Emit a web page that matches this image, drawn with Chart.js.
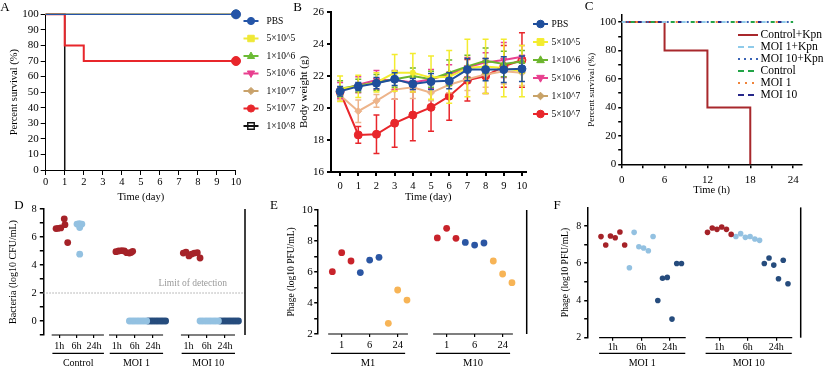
<!DOCTYPE html>
<html>
<head>
<meta charset="utf-8">
<title>Kpn phage panels</title>
<script src="https://cdn.jsdelivr.net/npm/chart.js@4/dist/chart.umd.min.js"></script>
<style>
  html, body { margin: 0; padding: 0; background: #fff; }
  #page { position: relative; width: 826px; height: 370px; overflow: hidden; }
  #page canvas { position: absolute; left: 0; top: 0; }
</style>
</head>
<body>
<div id="page">
  <canvas id="chartA" width="826" height="370"></canvas>
  <canvas id="chartB" width="826" height="370"></canvas>
  <canvas id="chartC" width="826" height="370"></canvas>
  <canvas id="chartD" width="826" height="370"></canvas>
  <canvas id="chartE" width="826" height="370"></canvas>
  <canvas id="chartF" width="826" height="370"></canvas>
</div>
<script>
const W = 826, H = 370;
const SERIF = "'Liberation Serif', 'Times New Roman', serif";

// ---------- A: survival by Kpn dose ----------
const aGroups = ['PBS', '5×10^5', '1×10^6', '5×10^6', '1×10^7', '5×10^7', '1×10^8'];
const aDays = [[0, 10], [0, 10], [0, 10], [0, 10], [0, 10], [0, 1, 2, 10], [0, 1]];
const aSurvival = [[100, 100], [100, 100], [100, 100], [100, 100], [100, 100], [100, 80, 70, 70], [100, 0]];
const aDayTicks = [0, 1, 2, 3, 4, 5, 6, 7, 8, 9, 10];
const aPctTicks = [0, 10, 20, 30, 40, 50, 60, 70, 80, 90, 100];

// ---------- B: body weight (g) ----------
const bDays = [0, 1, 2, 3, 4, 5, 6, 7, 8, 9, 10];
const bGroups = ['PBS', '5×10^5', '1×10^6', '5×10^6', '1×10^7', '5×10^7'];
const bPBS = [21.05, 21.35, 21.55, 21.8, 21.5, 21.65, 21.7, 22.4, 22.4, 22.4, 22.45];
const bPBSsd = [0.3, 0.25, 0.35, 0.4, 0.35, 0.5, 0.5, 0.7, 0.7, 0.8, 0.8];
const b5e5 = [21.2, 21.35, 21.6, 22.2, 22.2, 21.9, 21.95, 22.5, 22.6, 22.5, 22.3];
const b5e5sd = [0.8, 0.7, 0.6, 1.15, 1.2, 1.35, 1.65, 1.8, 1.7, 1.8, 1.6];
const b1e6 = [21.2, 21.4, 21.6, 21.8, 22.0, 21.8, 22.2, 22.6, 22.95, 22.75, 22.9];
const b1e6sd = [0.5, 0.4, 0.5, 0.5, 0.5, 0.5, 0.8, 0.7, 0.8, 0.8, 0.7];
const b5e6 = [21.1, 21.45, 21.75, 21.75, 21.6, 21.8, 22.1, 22.55, 22.85, 23.0, 23.2];
const b5e6sd = [0.5, 0.5, 0.6, 0.6, 0.6, 0.6, 0.6, 0.6, 0.6, 1.1, 0.7];
const b1e7 = [20.8, 19.8, 20.45, 21.15, 21.3, 20.95, 21.45, 21.8, 22.1, 22.3, 22.2];
const b1e7sd = [0.3, 0.7, 0.4, 0.6, 0.7, 0.5, 0.5, 0.7, 0.8, 0.8, 0.8];
const b5e7 = [21.0, 18.32, 18.36, 19.05, 19.56, 20.04, 20.74, 21.73, 22.0, 22.6, 23.0];
const b5e7sd = [0.3, 0.53, 1.2, 1.5, 1.6, 1.5, 1.5, 1.3, 1.1, 1.3, 1.7];
const bWeightTicks = [16, 18, 20, 22, 24, 26];

// ---------- C: survival with phage ----------
const cGroups = ['Control+Kpn', 'MOI 1+Kpn', 'MOI 10+Kpn', 'Control', 'MOI 1', 'MOI 10'];
const cHours = [[0, 6, 12, 18], [0, 24], [0, 24], [0, 24], [0, 24], [0, 24]];
const cSurvival = [[100, 80, 40, 0], [100, 100], [100, 100], [100, 100], [100, 100], [100, 100]];
const cHourTicks = [0, 3, 6, 9, 12, 15, 18, 21, 24];
const cPctTicks = [0, 10, 20, 30, 40, 50, 60, 70, 80, 90, 100];

// ---------- D: bacteria (log10 CFU/mL) ----------
const dGroups = ['Control', 'MOI 1', 'MOI 10'];
const dTimes = ['1h', '6h', '24h'];
const dTickX = [1.0, 1.95, 2.9, 4.15, 5.15, 6.15, 8.1, 9.1, 10.1];
const d1hX = [0.82, 0.94, 1.08, 1.27, 1.31, 1.46,
  4.11, 4.26, 4.43, 4.57, 4.70, 4.85, 4.94, 5.03,
  7.81, 7.96, 8.12, 8.27, 8.42, 8.58, 8.73];
const d1hY = [6.6, 6.62, 6.65, 7.3, 6.88, 5.6,
  4.95, 5.0, 5.02, 5.0, 4.88, 4.85, 4.9, 4.98,
  4.85, 4.92, 4.65, 4.78, 4.85, 4.88, 4.5];
const d6hX = [1.97, 2.1, 2.24, 2.12, 2.12,
  4.85, 4.99, 5.12, 5.26, 5.39, 5.53, 5.66, 5.80,
  8.73, 8.87, 9.02, 9.16, 9.30, 9.45, 9.59, 9.74];
const d6hY = [6.92, 6.95, 6.92, 6.68, 4.77,
  0, 0, 0, 0, 0, 0, 0, 0,
  0, 0, 0, 0, 0, 0, 0, 0];
const d24hX = [5.89, 6.03, 6.16, 6.30, 6.43, 6.57, 6.70, 6.84,
  9.85, 10.0, 10.14, 10.28, 10.42, 10.56, 10.7, 10.84];
const d24hY = [0, 0, 0, 0, 0, 0, 0, 0,
  0, 0, 0, 0, 0, 0, 0, 0];
const dLimit = 2;
const dLogTicks = [-1, 0, 1, 2, 3, 4, 5, 6, 7, 8];

// ---------- E: phage titre per mouse model ----------
const eGroups = ['M1', 'M10'];
const eTimes = ['1', '6', '24'];
const eTickX = [2, 5, 8, 13.25, 16.25, 19.25];
const e1X = [1, 2, 3, 12.25, 13.25, 14.25];
const e1Y = [6.02, 7.25, 6.71, 8.2, 8.82, 8.17];
const e6X = [4, 5, 6, 15.25, 16.25, 17.25];
const e6Y = [5.96, 6.77, 6.95, 7.91, 7.74, 7.87];
const e24X = [7, 8, 9, 18.25, 19.25, 20.25];
const e24Y = [2.69, 4.84, 4.19, 6.71, 5.87, 5.31];
const eLogTicks = [2, 3, 4, 5, 6, 7, 8, 9, 10];

// ---------- F: phage titre per MOI ----------
const fGroups = ['MOI 1', 'MOI 10'];
const fTimes = ['1h', '6h', '24h'];
const fTickX = [2.5, 8.5, 14.5, 25, 31, 37];
const f1hX = [0, 1, 2, 3, 4, 5, 22.5, 23.5, 24.5, 25.5, 26.5, 27.5];
const f1hY = [7.43, 6.98, 7.46, 7.37, 7.68, 6.98, 7.66, 7.89, 7.82, 7.95, 7.82, 7.55];
const f6hX = [6, 7, 8, 9, 10, 11, 28.5, 29.5, 30.5, 31.5, 32.5, 33.5];
const f6hY = [5.76, 7.66, 6.89, 6.82, 6.67, 7.44, 7.44, 7.59, 7.39, 7.44, 7.3, 7.23];
const f24hX = [12, 13, 14, 15, 16, 17, 34.5, 35.5, 36.5, 37.5, 38.5, 39.5];
const f24hY = [4.0, 5.19, 5.24, 3.0, 5.99, 5.99, 5.99, 6.28, 5.9, 5.17, 6.16, 4.9];
const fLogTicks = [2, 3, 4, 5, 6, 7, 8];

// ================= helpers =================
const zip = (xs, ys) => xs.map((x, i) => ({ x: x, y: ys[i] }));

// place the plot area at fixed page pixels
function frame(area, scaleLeft, scaleBottom) {
  return {
    padding: { left: scaleLeft, top: area.t, right: W - area.r, bottom: H - scaleBottom },
    yw: area.l - scaleLeft,
    xh: scaleBottom - area.b
  };
}

function linAxis(o) {
  return {
    type: 'linear', position: o.pos, min: o.min, max: o.max,
    border: { display: o.border !== false, color: '#000', width: o.lw },
    grid: { drawOnChartArea: false, drawTicks: true, tickLength: o.tl, tickWidth: o.lw, tickColor: '#000', color: '#000', lineWidth: o.lw },
    ticks: { font: { family: SERIF, size: o.fs }, color: '#000', padding: o.pad, maxRotation: 0, minRotation: 0, autoSkip: false,
      callback: o.label || (v => String(v)) },
    afterBuildTicks: s => { s.ticks = o.ticks.map(v => ({ value: v })); },
    afterFit: s => {
      if (o.pos === 'left') { s.width = o.size; s.paddingTop = 0; s.paddingBottom = 0; }
      else { s.height = o.size; s.paddingLeft = 0; s.paddingRight = 0; }
    },
    title: o.title ? { display: true, text: o.title, padding: 0, color: '#000', font: { family: SERIF, size: o.tfs } } : { display: false }
  };
}

function baseOptions(fr, scales) {
  return {
    responsive: false, animation: false, devicePixelRatio: 1, events: [],
    layout: { padding: fr.padding },
    plugins: { legend: { display: false }, tooltip: { enabled: false } },
    scales: scales
  };
}

function drawMarker(ctx, style, x, y, r, color, rot) {
  ctx.save();
  ctx.translate(x, y);
  if (rot) ctx.rotate(rot * Math.PI / 180);
  ctx.fillStyle = color; ctx.strokeStyle = color; ctx.lineWidth = 1;
  ctx.setLineDash([]);
  ctx.beginPath();
  if (style === 'circle') ctx.arc(0, 0, r, 0, Math.PI * 2);
  else if (style === 'rect' || style === 'openRect') ctx.rect(-r * 0.9, -r * 0.9, r * 1.8, r * 1.8);
  else if (style === 'triangle') { ctx.moveTo(0, -r * 1.1); ctx.lineTo(r, r * 0.7); ctx.lineTo(-r, r * 0.7); ctx.closePath(); }
  else if (style === 'rectRot') { ctx.moveTo(0, -r); ctx.lineTo(r, 0); ctx.lineTo(0, r); ctx.lineTo(-r, 0); ctx.closePath(); }
  if (style === 'openRect') { ctx.fillStyle = '#fff'; ctx.fill(); ctx.lineWidth = 1.4; ctx.stroke(); }
  else { ctx.fill(); ctx.stroke(); }
  ctx.restore();
}

function panelLetter(ch, x, y) {
  return {
    id: 'letter' + ch,
    afterDraw(chart) {
      const ctx = chart.ctx;
      ctx.save();
      ctx.fillStyle = '#000'; ctx.font = '13px ' + SERIF;
      ctx.textAlign = 'center'; ctx.textBaseline = 'middle';
      ctx.fillText(ch, x, y);
      ctx.restore();
    }
  };
}

function sideLegend(cfg) {
  return {
    id: 'sideLegend',
    afterDraw(chart) {
      const ctx = chart.ctx;
      ctx.save();
      cfg.items.forEach((it, i) => {
        const y = cfg.y + i * cfg.dy;
        const line = () => {
          ctx.strokeStyle = it.color; ctx.lineWidth = it.lw || 2; ctx.setLineDash(it.dash || []);
          ctx.beginPath(); ctx.moveTo(cfg.x, y); ctx.lineTo(cfg.x + cfg.len, y); ctx.stroke();
          ctx.setLineDash([]);
        };
        if (!it.lineOver) line();
        if (it.marker) drawMarker(ctx, it.marker, cfg.x + cfg.len / 2, y, cfg.r, it.markerColor || it.color, it.rot);
        if (it.lineOver) line();
        ctx.fillStyle = '#000'; ctx.font = cfg.fs + 'px ' + SERIF;
        ctx.textBaseline = 'middle'; ctx.textAlign = 'left';
        ctx.fillText(it.text, cfg.x + cfg.len + cfg.gap, y);
      });
      ctx.restore();
    }
  };
}

// vertical error bars drawn right after each dataset's line
const errorBars = {
  id: 'errorBars',
  afterDatasetDraw(chart, args) {
    const ds = chart.data.datasets[args.index];
    if (!ds.sd) return;
    const ctx = chart.ctx, xs = chart.scales.x, ys = chart.scales.y;
    ctx.save();
    ctx.strokeStyle = ds.borderColor; ctx.lineWidth = 1.5;
    ds.data.forEach((p, i) => {
      const px = xs.getPixelForValue(p.x);
      const top = ys.getPixelForValue(p.y + ds.sd[i]), bot = ys.getPixelForValue(p.y - ds.sd[i]);
      ctx.beginPath();
      ctx.moveTo(px, top); ctx.lineTo(px, bot);
      ctx.moveTo(px - 3, top); ctx.lineTo(px + 3, top);
      ctx.moveTo(px - 3, bot); ctx.lineTo(px + 3, bot);
      ctx.stroke();
    });
    ctx.restore();
  }
};

// grouped x axis: segment lines, underline and group names, plus right frame line
function groupAxis(cfg) {
  return {
    id: 'groupAxis',
    afterDraw(chart) {
      const ctx = chart.ctx, ca = chart.chartArea, xs = chart.scales.x;
      ctx.save();
      ctx.setLineDash([]);
      ctx.strokeStyle = '#000'; ctx.lineWidth = 1.5;
      ctx.beginPath(); ctx.moveTo(ca.right, ca.top); ctx.lineTo(ca.right, ca.bottom); ctx.stroke();
      ctx.lineWidth = cfg.lw;
      ctx.fillStyle = '#000'; ctx.font = cfg.fs + 'px ' + SERIF;
      ctx.textAlign = 'center'; ctx.textBaseline = 'middle';
      cfg.groups.forEach((g, i) => {
        const t = cfg.ticks.slice(i * 3, i * 3 + 3);
        const x0 = xs.getPixelForValue(t[0] - cfg.left), x1 = xs.getPixelForValue(t[2] + cfg.right);
        ctx.beginPath(); ctx.moveTo(x0, ca.bottom); ctx.lineTo(x1, ca.bottom); ctx.stroke();
        const u0 = xs.getPixelForValue(t[0] - cfg.uLeft), u1 = xs.getPixelForValue(t[2] + cfg.uRight);
        ctx.beginPath(); ctx.moveTo(u0, ca.bottom + cfg.uDy); ctx.lineTo(u1, ca.bottom + cfg.uDy); ctx.stroke();
        ctx.fillText(g, (u0 + u1) / 2, ca.bottom + cfg.labelDy);
      });
      ctx.restore();
    }
  };
}

const limitLine = {
  id: 'limitLine',
  beforeDatasetsDraw(chart) {
    const ctx = chart.ctx, ca = chart.chartArea;
    const py = chart.scales.y.getPixelForValue(dLimit);
    ctx.save();
    ctx.strokeStyle = '#a8a8a8'; ctx.lineWidth = 1; ctx.setLineDash([1.5, 1.5]);
    ctx.beginPath(); ctx.moveTo(ca.left, py); ctx.lineTo(ca.right, py); ctx.stroke();
    ctx.setLineDash([]);
    ctx.fillStyle = '#9a9a9a'; ctx.font = '9.5px ' + SERIF;
    ctx.textAlign = 'right'; ctx.textBaseline = 'middle';
    ctx.fillText('Limit of detection', ca.right - 18, py - 10);
    ctx.restore();
  }
};

// ================= A =================
const aColors = ['#2455a8', '#efe836', '#6cbb35', '#e83f8f', '#c9a26b', '#e8262b', '#111111'];
const aStyles = ['circle', 'rect', 'triangle', 'triangle', 'rectRot', 'circle', 'rect'];
const aRot = [0, 0, 0, 180, 0, 0, 0];
const aWidths = [1.3, 1.3, 1.3, 1.3, 1.3, 2, 1.5];
const fA = frame({ l: 45.7, r: 236, t: 14.3, b: 170 }, 7.5, 203.3);

new Chart(document.getElementById('chartA'), {
  type: 'scatter',
  data: {
    datasets: aGroups.map((g, i) => ({
      label: g,
      data: zip(aDays[i], aSurvival[i]),
      showLine: true, stepped: true, clip: false,
      borderColor: aColors[i], backgroundColor: aColors[i], borderWidth: aWidths[i],
      pointStyle: aStyles[i], rotation: aRot[i], pointBorderWidth: 1,
      pointRadius: c => (c.raw && c.raw.x === 10) ? 4.5 : 0
    }))
  },
  options: baseOptions(fA, {
    x: linAxis({ pos: 'bottom', min: 0, max: 10, ticks: aDayTicks, size: fA.xh, lw: 1, tl: 5, pad: 1, fs: 10.5, title: 'Time (day)', tfs: 10.5 }),
    y: linAxis({ pos: 'left', min: 0, max: 100, ticks: aPctTicks, size: fA.yw, lw: 1, tl: 5, pad: 2, fs: 11, title: 'Percent survival (%)', tfs: 10.5 })
  }),
  plugins: [panelLetter('A', 5, 7.5), sideLegend({
    x: 243.5, y: 21, dy: 17.5, len: 15, gap: 8, fs: 9.5, r: 3.6,
    items: aGroups.map((g, i) => ({ text: g, color: aColors[i], marker: i === 6 ? 'openRect' : aStyles[i], rot: aRot[i], lineOver: i === 6 }))
  })]
});

// ================= B =================
const bSeries = [bPBS, b5e5, b1e6, b5e6, b1e7, b5e7];
const bSds = [bPBSsd, b5e5sd, b1e6sd, b5e6sd, b1e7sd, b5e7sd];
const bColors = ['#1f4e9c', '#f3ec2f', '#6cb52d', '#e8408f', '#edb48a', '#e8262b'];
const bLegendColors = ['#1f4e9c', '#f3ec2f', '#6cb52d', '#e8408f', '#c8a267', '#e8262b'];
const bStyles = ['circle', 'rect', 'triangle', 'triangle', 'rectRot', 'circle'];
const bRot = [0, 0, 0, 180, 0, 0];
const bRadius = [4, 3, 3.5, 3.5, 3.5, 4];
const fB = frame({ l: 331, r: 525.6, t: 12, b: 172 }, 297.2, 203.6);

new Chart(document.getElementById('chartB'), {
  type: 'scatter',
  data: {
    datasets: bGroups.map((g, i) => ({
      label: g,
      data: zip(bDays, bSeries[i]),
      sd: bSds[i],
      showLine: true, clip: false,
      borderColor: bColors[i], backgroundColor: bColors[i], borderWidth: 2,
      pointStyle: bStyles[i], rotation: bRot[i], pointRadius: bRadius[i], pointBorderWidth: 1
    }))
  },
  options: baseOptions(fB, {
    x: linAxis({ pos: 'bottom', min: -0.5, max: 10.2, ticks: bDays, size: fB.xh, lw: 2, tl: 4, pad: 4, fs: 10.5, title: 'Time (day)', tfs: 10.5 }),
    y: linAxis({ pos: 'left', min: 16, max: 26, ticks: bWeightTicks, size: fB.yw, lw: 2, tl: 4, pad: 3, fs: 11, title: 'Body weight (g)', tfs: 11 })
  }),
  plugins: [errorBars, panelLetter('B', 297.5, 8), sideLegend({
    x: 533, y: 24, dy: 18, len: 15, gap: 3.5, fs: 9.5, r: 3.8,
    items: bGroups.map((g, i) => ({ text: g, color: bLegendColors[i], marker: bStyles[i], rot: bRot[i] }))
  })]
});

// ================= C =================
const cColors = ['#a8282c', '#8fcbea', '#3a63b5', '#22a447', '#f0843a', '#27288a'];
const cLegendDash = [[], [6, 4], [2, 4], [6, 4], [2, 5], [6, 4]];
// the overlapping 100% lines share one dash cycle so every colour shows through
const cPlotDash = [[], [4, 16], [2, 18], [4, 16], [2, 18], [4, 16]];
const cDashOffset = [0, 0, -5, -9, -14, -16];
const fC = frame({ l: 621.7, r: 801.7, t: 15, b: 164.3 }, 586.3, 196.3);

new Chart(document.getElementById('chartC'), {
  type: 'scatter',
  data: {
    datasets: cGroups.map((g, i) => ({
      label: g,
      data: zip(cHours[i], cSurvival[i]),
      showLine: true, stepped: true, clip: false, order: i === 0 ? 1 : 0,
      borderColor: cColors[i], backgroundColor: cColors[i], borderWidth: 2,
      borderDash: cPlotDash[i], borderDashOffset: cDashOffset[i], pointRadius: 0
    }))
  },
  options: baseOptions(fC, {
    x: linAxis({ pos: 'bottom', min: 0, max: 25.2, ticks: cHourTicks, size: fC.xh, lw: 1.5, tl: 4, pad: 5, fs: 11,
      label: v => (v % 6 === 0 ? String(v) : ''), title: 'Time (h)', tfs: 10.5 }),
    y: linAxis({ pos: 'left', min: 0, max: 105, ticks: cPctTicks, size: fC.yw, lw: 1.5, tl: 3.5, pad: 2, fs: 11,
      label: v => (v % 20 === 0 ? String(v) : ''), title: 'Percent survival (%)', tfs: 9 })
  }),
  plugins: [panelLetter('C', 589, 6.7), sideLegend({
    x: 738, y: 35, dy: 12, len: 20, gap: 2.5, fs: 11.5, r: 0,
    items: cGroups.map((g, i) => ({ text: g, color: cColors[i], dash: cLegendDash[i] }))
  })]
});

// ================= D =================
const fD = frame({ l: 43.3, r: 245, t: 209, b: 335 }, 7.3, 355);
const dotSet = (xs, ys, color, r) => ({
  data: zip(xs, ys), backgroundColor: color, borderColor: color, pointRadius: r, pointBorderWidth: 0, clip: false
});

new Chart(document.getElementById('chartD'), {
  type: 'scatter',
  data: {
    datasets: [
      dotSet(d1hX, d1hY, '#a52228', 3.4),
      dotSet(d6hX, d6hY, '#93c1e1', 3.4),
      dotSet(d24hX, d24hY, '#264c7d', 3.4)
    ]
  },
  options: baseOptions(fD, {
    x: linAxis({ pos: 'bottom', min: 0.12, max: 11.2, ticks: dTickX, size: fD.xh, lw: 1.2, tl: 3, pad: 2, fs: 10,
      border: false, label: (v, i) => dTimes[i % 3] }),
    y: linAxis({ pos: 'left', min: -1, max: 8, ticks: dLogTicks, size: fD.yw, lw: 1.5, tl: 3.5, pad: 3, fs: 10.5,
      label: v => (v >= 0 && v % 2 === 0 ? String(v) : ''), title: 'Bacteria (log10 CFU/mL)', tfs: 10 })
  }),
  plugins: [limitLine, panelLetter('D', 19, 205.7), groupAxis({
    groups: dGroups, ticks: dTickX, lw: 1.2, fs: 10,
    left: 0.42, right: 0.55, uLeft: 0.38, uRight: 0.55, uDy: 18.3, labelDy: 28.3
  })]
});

// ================= E =================
const fE = frame({ l: 317.7, r: 526.7, t: 210, b: 334 }, 286, 355);

new Chart(document.getElementById('chartE'), {
  type: 'scatter',
  data: {
    datasets: [
      dotSet(e1X, e1Y, '#c8232b', 3.4),
      dotSet(e6X, e6Y, '#2b56a3', 3.4),
      dotSet(e24X, e24Y, '#f7b456', 3.4)
    ]
  },
  options: baseOptions(fE, {
    x: linAxis({ pos: 'bottom', min: -0.57, max: 21.83, ticks: eTickX, size: fE.xh, lw: 1.2, tl: 3, pad: 2, fs: 10.5,
      border: false, label: (v, i) => eTimes[i % 3] }),
    y: linAxis({ pos: 'left', min: 2, max: 10, ticks: eLogTicks, size: fE.yw, lw: 1.5, tl: 3.5, pad: 1.5, fs: 11,
      label: v => (v % 2 === 0 ? String(v) : ''), title: 'Phage (log10 PFU/mL)', tfs: 9.5 })
  }),
  plugins: [panelLetter('E', 274, 206), groupAxis({
    groups: eGroups, ticks: eTickX, lw: 1.2, fs: 10.5,
    left: 1.45, right: 1.1, uLeft: 1.15, uRight: 0.8, uDy: 19.3, labelDy: 29.3
  })]
});

// ================= F =================
const fF = frame({ l: 587.7, r: 800.7, t: 207.4, b: 337.7 }, 559.3, 357);

new Chart(document.getElementById('chartF'), {
  type: 'scatter',
  data: {
    datasets: [
      dotSet(f1hX, f1hY, '#a52228', 2.8),
      dotSet(f6hX, f6hY, '#93c1e1', 2.8),
      dotSet(f24hX, f24hY, '#264c7d', 2.8)
    ]
  },
  options: baseOptions(fF, {
    x: linAxis({ pos: 'bottom', min: -2.81, max: 42.19, ticks: fTickX, size: fF.xh, lw: 1.2, tl: 3, pad: 1, fs: 10,
      border: false, label: (v, i) => fTimes[i % 3] }),
    y: linAxis({ pos: 'left', min: 2, max: 9, ticks: fLogTicks, size: fF.yw, lw: 1.5, tl: 3.5, pad: 3, fs: 10,
      label: v => (v % 2 === 0 ? String(v) : ''), title: 'Phage (log10 PFU/mL)', tfs: 9.5 })
  }),
  plugins: [panelLetter('F', 557, 206), groupAxis({
    groups: fGroups, ticks: fTickX, lw: 1.2, fs: 10,
    left: 2.9, right: 3.4, uLeft: 2.9, uRight: 3.3, uDy: 15.6, labelDy: 25.6
  })]
});
</script>
</body>
</html>
